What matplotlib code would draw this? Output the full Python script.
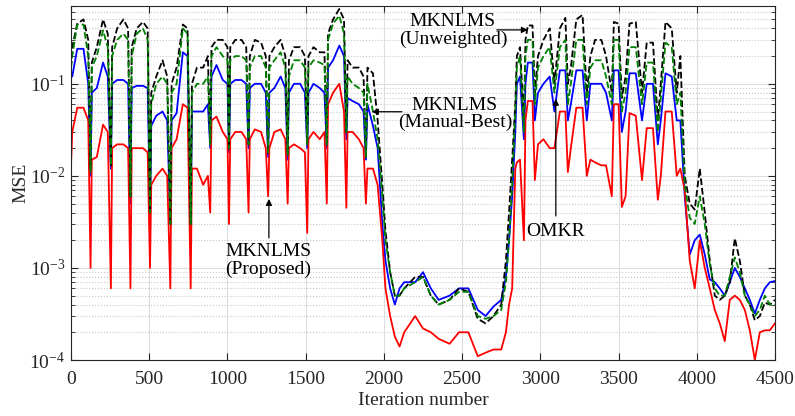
import matplotlib
matplotlib.use('Agg')
import matplotlib.pyplot as plt
from matplotlib.ticker import LogLocator, NullFormatter

# iteration grid shared by the four curves
iters = [
    0, 8, 40, 80, 110,
    125, 133, 165, 205, 235,
    255, 263, 295, 335, 365,
    380, 388, 420, 460, 490,
    505, 513, 545, 585, 615,
    635, 643, 675, 715, 745,
    765, 773, 805, 845, 875,
    890, 898, 930, 970, 1000,
    1010, 1018, 1050, 1090, 1120,
    1135, 1143, 1175, 1215, 1245,
    1260, 1268, 1300, 1340, 1370,
    1385, 1393, 1425, 1465, 1495,
    1510, 1518, 1550, 1590, 1620,
    1635, 1643, 1675, 1715, 1745,
    1760, 1768, 1800, 1840, 1870,
    1885, 1895, 1930, 1960, 1990, 2010, 2040, 2070, 2100, 2130,
    2200, 2250, 2300, 2350, 2420, 2480, 2540, 2600, 2650, 2700,
    2750, 2780, 2800, 2820, 2840,
    2850, 2870, 2895, 2905, 2920, 2950, 2965, 2985, 3020, 3060,
    3090, 3125, 3160, 3176, 3195, 3230, 3270, 3297, 3320, 3350,
    3390, 3420, 3457, 3470, 3500, 3521, 3545, 3570, 3610, 3650,
    3680, 3720, 3751, 3770, 3800, 3840, 3872, 3895,
    3923, 3955, 3987, 4019, 4051, 4083, 4115, 4147, 4179, 4211,
    4243, 4275, 4307, 4339, 4371, 4403, 4435, 4467, 4500,
]

mse_proposed = [
    0.013, 0.03, 0.055, 0.055, 0.04,
    0.001, 0.015, 0.016, 0.036, 0.03,
    0.0006, 0.02, 0.022, 0.022, 0.02,
    0.0006, 0.02, 0.02, 0.02, 0.018,
    0.001, 0.008, 0.01, 0.012, 0.01,
    0.0006, 0.02, 0.025, 0.06, 0.055,
    0.0006, 0.012, 0.012, 0.008, 0.01,
    0.004, 0.04, 0.044, 0.03, 0.025,
    0.003, 0.025, 0.03, 0.03, 0.025,
    0.004, 0.025, 0.032, 0.03, 0.02,
    0.006, 0.02, 0.03, 0.032, 0.025,
    0.005, 0.02, 0.022, 0.02, 0.018,
    0.0024, 0.025, 0.03, 0.025, 0.03,
    0.005, 0.06, 0.08, 0.1, 0.05,
    0.0045, 0.03, 0.03, 0.025, 0.02,
    0.005, 0.012, 0.012, 0.008, 0.002, 0.0006, 0.0003, 0.00018, 0.00014, 0.0002,
    0.0003, 0.00022, 0.0002, 0.00017, 0.00015, 0.0002, 0.0002, 0.00011, 0.00012, 0.00013,
    0.00013, 0.0002, 0.0004, 0.0006, 0.012,
    0.014, 0.015, 0.002, 0.04, 0.065, 0.065, 0.009, 0.022, 0.025, 0.02,
    0.02, 0.05, 0.05, 0.011, 0.02, 0.055, 0.055, 0.01, 0.015, 0.014,
    0.013, 0.013, 0.006, 0.06, 0.06, 0.0046, 0.006, 0.048, 0.045, 0.009,
    0.033, 0.033, 0.0055, 0.01, 0.05, 0.05, 0.01, 0.012,
    0.007, 0.0012, 0.0006, 0.002, 0.001, 0.0006, 0.00035, 0.00025, 0.00016, 0.00045,
    0.0005, 0.00045, 0.00035, 0.00021, 0.0001, 0.0002, 0.00021, 0.00021, 0.00025,
]

mse_omkr = [
    0.13, 0.12, 0.24, 0.24, 0.1,
    0.01, 0.08, 0.09, 0.17, 0.12,
    0.012, 0.1, 0.11, 0.11, 0.1,
    0.005, 0.09, 0.095, 0.095, 0.09,
    0.004, 0.035, 0.045, 0.05, 0.04,
    0.003, 0.04, 0.048, 0.22, 0.2,
    0.003, 0.05, 0.05, 0.05, 0.06,
    0.02, 0.12, 0.16, 0.11, 0.1,
    0.018, 0.1, 0.11, 0.11, 0.1,
    0.02, 0.09, 0.1, 0.1, 0.08,
    0.016, 0.08, 0.09, 0.12, 0.09,
    0.015, 0.08, 0.1, 0.1, 0.08,
    0.02, 0.08, 0.1, 0.09, 0.08,
    0.02, 0.15, 0.18, 0.26, 0.2,
    0.025, 0.07, 0.065, 0.06, 0.05,
    0.015, 0.06, 0.035, 0.02, 0.003, 0.0012, 0.0006, 0.0004, 0.0006, 0.0007,
    0.0007, 0.0009, 0.0006, 0.00045, 0.0005, 0.0006, 0.0006, 0.00035, 0.0003, 0.00038,
    0.00045, 0.0008, 0.002, 0.006, 0.03,
    0.1, 0.12, 0.025, 0.1, 0.17, 0.17, 0.04, 0.08, 0.1, 0.12,
    0.05, 0.14, 0.14, 0.04, 0.06, 0.14, 0.14, 0.04, 0.1, 0.1,
    0.1, 0.08, 0.04, 0.14, 0.14, 0.03, 0.05, 0.13, 0.13, 0.04,
    0.1, 0.1, 0.022, 0.04, 0.13, 0.12, 0.04, 0.04,
    0.006, 0.0014, 0.002, 0.0023, 0.0014, 0.00075, 0.0007, 0.0006, 0.0005, 0.0007,
    0.001, 0.0008, 0.0006, 0.00045, 0.00032, 0.00045, 0.0006, 0.0007, 0.00072,
]

mse_manual = [
    0.15, 0.2, 0.44, 0.44, 0.2,
    0.011, 0.15, 0.2, 0.38, 0.25,
    0.013, 0.2, 0.3, 0.35, 0.3,
    0.006, 0.2, 0.35, 0.4, 0.3,
    0.004, 0.06, 0.1, 0.12, 0.1,
    0.003, 0.08, 0.1, 0.4, 0.35,
    0.003, 0.08, 0.1, 0.1, 0.12,
    0.022, 0.2, 0.25, 0.2, 0.18,
    0.02, 0.18, 0.2, 0.2, 0.18,
    0.022, 0.15, 0.2, 0.2, 0.15,
    0.018, 0.15, 0.18, 0.22, 0.15,
    0.017, 0.12, 0.18, 0.18, 0.15,
    0.022, 0.15, 0.18, 0.17, 0.16,
    0.022, 0.3, 0.45, 0.55, 0.35,
    0.03, 0.12, 0.1, 0.09, 0.08,
    0.016, 0.1, 0.05, 0.025, 0.006, 0.002, 0.0009, 0.0005, 0.0005, 0.0006,
    0.0007, 0.0008, 0.0005, 0.0004, 0.00045, 0.00055, 0.00055, 0.0003, 0.00028, 0.0003,
    0.00035, 0.0007, 0.002, 0.008, 0.05,
    0.15, 0.2, 0.03, 0.2, 0.3, 0.3, 0.06, 0.15, 0.2, 0.25,
    0.08, 0.25, 0.3, 0.06, 0.1, 0.3, 0.3, 0.06, 0.15, 0.18,
    0.18, 0.12, 0.06, 0.3, 0.3, 0.05, 0.08, 0.25, 0.25, 0.06,
    0.17, 0.17, 0.03, 0.07, 0.28, 0.25, 0.06, 0.08,
    0.008, 0.0035, 0.003, 0.006, 0.003, 0.0011, 0.0006, 0.0005, 0.0005, 0.0008,
    0.0013, 0.0009, 0.0005, 0.0004, 0.0003, 0.00035, 0.0005, 0.0004, 0.0004,
]

mse_unweighted = [
    0.15, 0.25, 0.45, 0.5, 0.3,
    0.012, 0.17, 0.25, 0.5, 0.35,
    0.013, 0.25, 0.4, 0.5, 0.4,
    0.006, 0.25, 0.4, 0.47, 0.4,
    0.004, 0.08, 0.12, 0.18, 0.12,
    0.003, 0.1, 0.15, 0.44, 0.4,
    0.003, 0.1, 0.15, 0.15, 0.2,
    0.022, 0.25, 0.3, 0.3, 0.25,
    0.02, 0.25, 0.3, 0.3, 0.25,
    0.022, 0.2, 0.3, 0.28, 0.2,
    0.018, 0.2, 0.25, 0.3, 0.2,
    0.017, 0.18, 0.25, 0.25, 0.2,
    0.022, 0.2, 0.25, 0.22, 0.22,
    0.022, 0.35, 0.5, 0.65, 0.5,
    0.03, 0.18, 0.15, 0.15, 0.12,
    0.016, 0.15, 0.13, 0.04, 0.008, 0.0025, 0.0009, 0.0005, 0.0005, 0.0006,
    0.0008, 0.0008, 0.0005, 0.0004, 0.00045, 0.0006, 0.00055, 0.00028, 0.00025, 0.0003,
    0.0004, 0.0012, 0.004, 0.015, 0.06,
    0.2, 0.25, 0.04, 0.3, 0.43, 0.43, 0.08, 0.2, 0.3, 0.4,
    0.1, 0.4, 0.52, 0.1, 0.15, 0.5, 0.56, 0.08, 0.2, 0.3,
    0.3, 0.2, 0.08, 0.47, 0.45, 0.07, 0.12, 0.45, 0.47, 0.08,
    0.28, 0.28, 0.04, 0.1, 0.47, 0.4, 0.08, 0.2,
    0.01, 0.005, 0.0043, 0.012, 0.004, 0.0012, 0.0005, 0.00045, 0.0005, 0.0007,
    0.0021, 0.0012, 0.0005, 0.0004, 0.00027, 0.0003, 0.00042, 0.0004, 0.00045,
]

plt.rcParams['font.family'] = ['Liberation Serif', 'DejaVu Serif']
plt.rcParams['mathtext.fontset'] = 'stix'

fig = plt.figure(figsize=(7.95, 4.16), dpi=100)
ax = fig.add_axes([71 / 795, 56 / 416, 704 / 795, 354 / 416])

ax.semilogy(iters, mse_omkr, '-', color='b', lw=1.3)
ax.semilogy(iters, mse_proposed, '-', color='r', lw=1.3)
ax.semilogy(iters, mse_unweighted, '--', color='k', lw=1.3)
ax.semilogy(iters, mse_manual, '--', color=(0, 0.5, 0), lw=1.3)

ax.set_xlim(0, 4500)
ax.set_ylim(1e-4, 0.7)
ax.set_xticks(range(0, 4501, 500))
ax.yaxis.set_major_locator(LogLocator(base=10, numticks=10))
ax.yaxis.set_minor_locator(LogLocator(base=10, subs=range(2, 10), numticks=20))
ax.yaxis.set_minor_formatter(NullFormatter())

ax.grid(True, which='major', color='#dedede', lw=0.8, ls='-')
ax.grid(True, which='minor', axis='y', color='#c8c8c8', lw=0.8, ls=':')
ax.set_axisbelow(True)

for s in ax.spines.values():
    s.set_color('#262626')
    s.set_linewidth(0.8)
ax.tick_params(which='both', direction='in', top=True, right=True,
               colors='#262626', labelsize=14)
ax.tick_params(which='major', length=5)
ax.tick_params(which='minor', length=3)
ax.tick_params(axis='x', pad=8)
ax.tick_params(axis='y', pad=4)

ax.set_xlabel('Iteration number', fontsize=14, color='#262626', labelpad=3)
ax.set_ylabel('MSE', fontsize=14, color='#262626', labelpad=0)

# annotations
arrow = dict(arrowstyle='-|>', color='k', lw=0.9, mutation_scale=9, shrinkA=0, shrinkB=0)
ax.text(2441, 0.377, 'MKNLMS\n(Unweighted)', ha='center', va='center', fontsize=14, linespacing=1.05)
ax.annotate('', xy=(2920, 0.385), xytext=(2722, 0.385), arrowprops=arrow)

ax.text(2454, 0.047, 'MKNLMS\n(Manual-Best)', ha='center', va='center', fontsize=14, linespacing=1.05)
ax.annotate('', xy=(1923, 0.0497), xytext=(2115, 0.0497), arrowprops=arrow)

ax.text(1259, 0.00119, 'MKNLMS\n(Proposed)', ha='center', va='center', fontsize=14, linespacing=1.05)
ax.annotate('', xy=(1265, 0.00562), xytext=(1265, 0.00212), arrowprops=arrow)

ax.text(3099, 0.00246, 'OMKR', ha='center', va='center', fontsize=14)
ax.annotate('', xy=(3099, 0.0687), xytext=(3099, 0.00367), arrowprops=arrow)

fig.savefig('out.png', dpi=100)
